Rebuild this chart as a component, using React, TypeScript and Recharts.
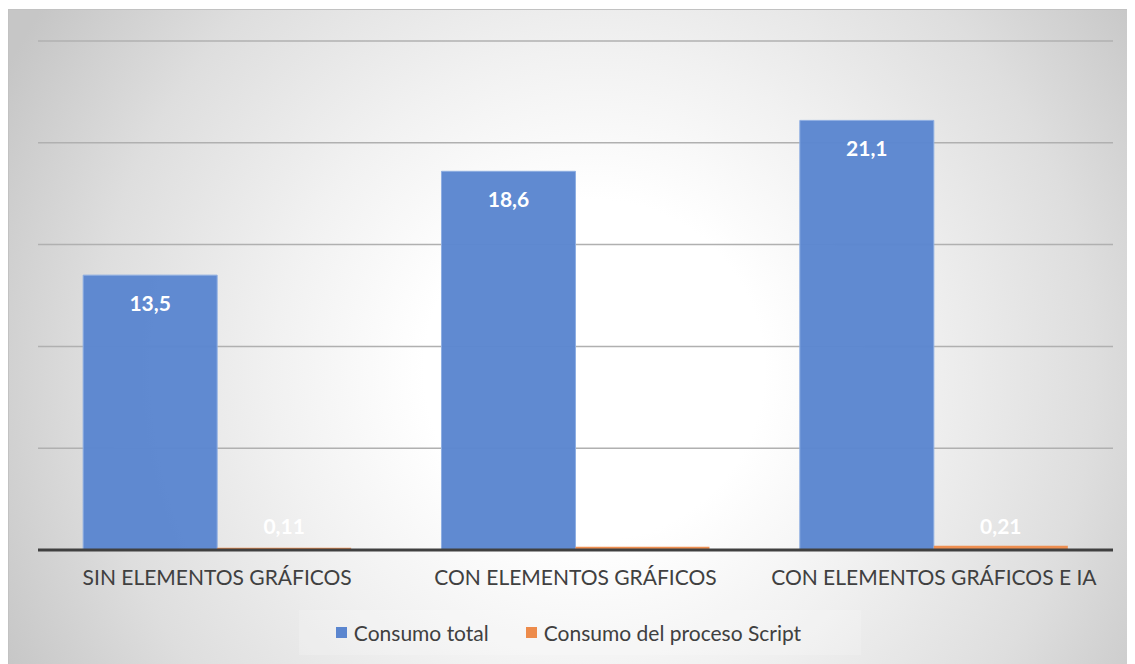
import {
  BarChart, Bar, XAxis, YAxis, CartesianGrid, Legend, LabelList,
} from 'recharts';

const CATEGORIES = ['SIN ELEMENTOS GRÁFICOS', 'CON ELEMENTOS GRÁFICOS', 'CON ELEMENTOS GRÁFICOS E IA'];
const TOTAL = [13.5, 18.6, 21.1];
const SCRIPT = [0.11, 0.16, 0.21];
const Y_TICKS = [0, 5, 10, 15, 20, 25];

const SERIES = [
  { key: 'total', name: 'Consumo total', color: '#5b86cf' },
  { key: 'script', name: 'Consumo del proceso Script', color: '#ed8b4b' },
];

const data = CATEGORIES.map((c, i) => ({ label: c, total: TOTAL[i], script: SCRIPT[i] }));

const FONT = 'Lato, "Open Sans", sans-serif';
const fmt = (v: unknown) => String(v).replace('.', ',');

function ValueLabel(props: any) {
  const { x, y, width, height, value } = props;
  const ty = height > 40 ? y + 27 : y + height - 25;
  return (
    <text
      x={x + width / 2}
      y={ty}
      textAnchor="middle"
      dominantBaseline="central"
      fill="#ffffff"
      fontSize={21}
      fontWeight={700}
      fontFamily={FONT}
    >
      {fmt(value)}
    </text>
  );
}

function CatTick(props: any) {
  const { x, y, payload } = props;
  return (
    <text x={x} y={y} dy={27} textAnchor="middle" fill="#404040" fontSize={21} fontFamily={FONT}>
      {payload.value}
    </text>
  );
}

function LegendBox() {
  return (
    <div
      style={{
        width: 562,
        height: 45,
        margin: '0 auto',
        position: 'relative',
        left: 4,
        top: -3,
        background: 'rgba(255,255,255,0.18)',
        display: 'flex',
        alignItems: 'center',
        justifyContent: 'center',
        gap: 37,
        fontFamily: FONT,
        fontSize: 21,
        color: '#404040',
        paddingRight: 22,
        boxSizing: 'border-box',
      }}
    >
      {SERIES.map((s) => (
        <div key={s.key} style={{ display: 'flex', alignItems: 'center', gap: 7 }}>
          <span style={{ width: 11, height: 11, background: s.color, display: 'inline-block' }} />
          <span>{s.name}</span>
        </div>
      ))}
    </div>
  );
}

export default function App() {
  return (
    <div
      style={{
        width: 1125,
        height: 654,
        marginTop: 1,
        border: '1px solid #c2c2c2',
        background: 'radial-gradient(circle at 52% 55%, #ffffff 0px, #ffffff 170px, #f1f1f1 320px, #dedede 500px, #c6c6c6 660px)',
      }}
    >
      <BarChart
        width={1125}
        height={654}
        data={data}
        margin={{ top: 31, right: 21, left: 29, bottom: 6 }}
        barCategoryGap="12.6%"
        barGap={0}
      >
        <CartesianGrid vertical={false} stroke="#b0b0b0" strokeWidth={1.5} />
        <YAxis
          width={0}
          domain={[0, 25]}
          ticks={Y_TICKS}
          tick={{ fill: 'transparent', fontSize: 1 }}
          axisLine={false}
          tickLine={false}
        />
        <XAxis
          dataKey="label"
          height={63}
          tick={<CatTick />}
          tickLine={false}
          axisLine={{ stroke: '#404040', strokeWidth: 3 }}
        />
        <Legend verticalAlign="bottom" height={45} content={<LegendBox />} />
        {SERIES.map((s) => (
          <Bar
            key={s.key}
            dataKey={s.key}
            name={s.name}
            fill={s.color}
            fillOpacity={0.97}
            stroke={s.key === 'total' ? '#8eaee2' : undefined}
            strokeWidth={1}
            isAnimationActive={false}
          >
            <LabelList dataKey={s.key} content={<ValueLabel />} />
          </Bar>
        ))}
      </BarChart>
    </div>
  );
}
